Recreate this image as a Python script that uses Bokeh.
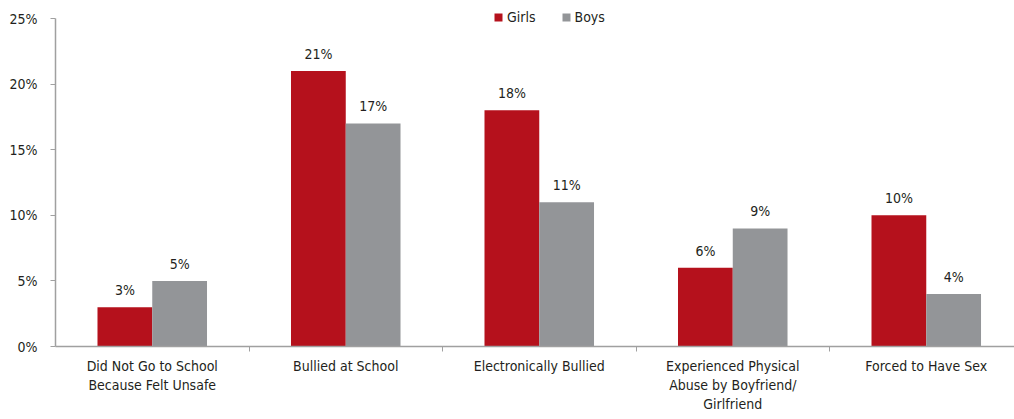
from bokeh.plotting import figure
from bokeh.models import ColumnDataSource, Range1d, FixedTicker, NumeralTickFormatter, Legend
from bokeh.core.properties import value
from bokeh.embed import file_html
from bokeh.resources import INLINE

categories = ["Did Not Go to School\nBecause Felt Unsafe", "Bullied at School", "Electronically Bullied",
              "Experienced Physical\nAbuse by Boyfriend/\nGirlfriend", "Forced to Have Sex"]
girls = [0.03, 0.21, 0.18, 0.06, 0.10]
boys = [0.05, 0.17, 0.11, 0.09, 0.04]
y_ticks = [0, 0.05, 0.10, 0.15, 0.20, 0.25]

FONT = "'DejaVu Sans Condensed', 'Liberation Sans Narrow', 'Liberation Sans', sans-serif"
FS = "14px"
RED = "#B5111C"
GRAY = "#939598"
TXT = "#231F20"
AX = "#A0A0A0"

centers = [i + 0.5 for i in range(len(categories))]
off = 0.1415
bw = 0.283

src_g = ColumnDataSource(dict(x=[c - off for c in centers], y=girls,
                              t=[f"{round(v*100)}%" for v in girls]))
src_b = ColumnDataSource(dict(x=[c + off for c in centers], y=boys,
                              t=[f"{round(v*100)}%" for v in boys]))

p = figure(width=1014, height=414, output_backend="svg", toolbar_location=None,
           x_range=Range1d(0, 4.956), y_range=Range1d(0, 0.2622),
           min_border_left=55, min_border_right=0, min_border_top=2, min_border_bottom=68)
p.outline_line_color = None
p.grid.visible = False
p.background_fill_color = "white"

rg = p.vbar(x="x", top="top", width=bw, source=ColumnDataSource(dict(x=src_g.data["x"], top=girls)),
            fill_color=RED, line_color=None)
rb = p.vbar(x="x", top="top", width=bw, source=ColumnDataSource(dict(x=src_b.data["x"], top=boys)),
            fill_color=GRAY, line_color=None)

for s in (src_g, src_b):
    p.text(x="x", y="y", text="t", source=s, text_align="center", text_baseline="bottom",
           y_offset=-9, text_font=value(FONT), text_font_size=FS, text_color=TXT)

# x axis
xa = p.xaxis[0]
xa.ticker = FixedTicker(ticks=centers, minor_ticks=[1, 2, 3, 4])
xa.major_label_overrides = {c: lab for c, lab in zip(centers, categories)}
xa.major_tick_out = 0
xa.major_tick_in = 0
xa.minor_tick_out = 5
xa.minor_tick_in = 0
xa.minor_tick_line_color = AX
xa.axis_line_color = AX
xa.axis_line_width = 1.5
xa.major_label_text_font = FONT
xa.major_label_text_font_size = FS
xa.major_label_text_color = TXT
xa.major_label_text_line_height = 1.2
xa.major_label_standoff = 6

ya = p.yaxis[0]
ya.ticker = FixedTicker(ticks=y_ticks, minor_ticks=[])
ya.formatter = NumeralTickFormatter(format="0%")
ya.bounds = (0, 0.25)
ya.major_tick_out = 5
ya.major_tick_in = 0
ya.major_tick_line_color = AX
ya.axis_line_color = AX
ya.axis_line_width = 1.5
ya.major_label_text_font = FONT
ya.major_label_text_font_size = FS
ya.major_label_text_color = TXT
ya.major_label_standoff = 13

legend = Legend(items=[("Girls", [rg]), ("Boys", [rb])], orientation="horizontal",
                location=(438, 321))
legend.border_line_color = None
legend.background_fill_alpha = 0
legend.glyph_width = 10
legend.glyph_height = 10
legend.label_standoff = 4
legend.spacing = 25
legend.padding = 0
legend.margin = 0
legend.label_text_font = FONT
legend.label_text_font_size = FS
legend.label_text_color = TXT
p.add_layout(legend, "center")

open("out.html", "w").write(file_html(p, INLINE))
